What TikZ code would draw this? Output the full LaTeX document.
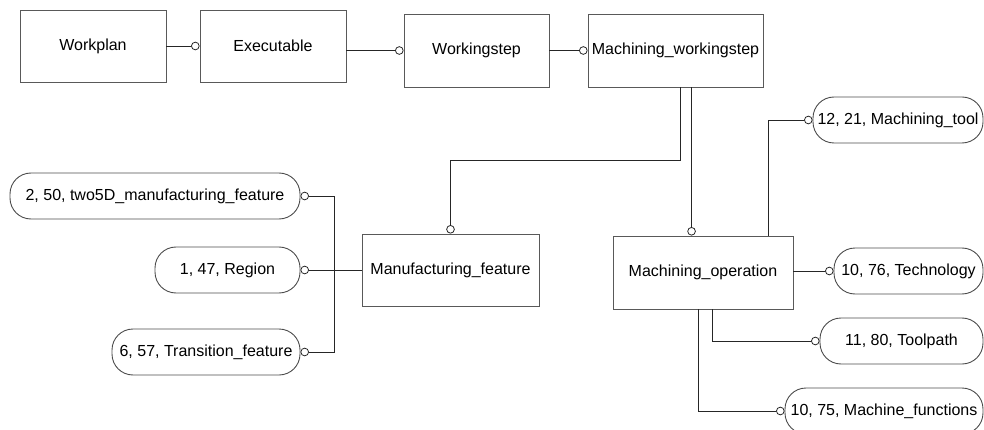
\documentclass[tikz,border=0pt]{standalone}
\usepackage{fontspec}
\setmainfont{Liberation Sans}
\usetikzlibrary{arrows.meta}
\begin{document}
\begin{tikzpicture}[x=1pt,y=-1pt,
  txt/.style={font=\fontsize{16}{19}\selectfont, text=black},
  entity/.style={txt, draw=black!65, line width=0.9pt, rectangle,
    minimum width=#1, minimum height=72pt, inner sep=0pt},
  pill/.style={txt, draw=black!70, line width=0.9pt, rounded corners=21pt,
    minimum width=#1, minimum height=46pt, inner sep=0pt},
  link/.style={draw=black!85, line width=0.9pt,
    -{Circle[open,length=8.5pt,width=8.5pt,line width=0.8pt]}}]
  \useasboundingbox (0,0) rectangle (984,430);

  % top chain
  \node[entity=146pt] (wp)  at (93,46)    {Workplan};
  \node[entity=146pt] (ex)  at (273,46)   {Executable};
  \node[entity=145pt, minimum height=73pt] (ws)  at (476.5,50.5) {Workingstep};
  \node[entity=175pt, minimum height=73pt] (mws) at (675.5,50.5) {Machining\_workingstep};

  % second level
  \node[entity=177pt] (mf) at (450.5,270) {Manufacturing\_feature};
  \node[entity=180pt, minimum height=73pt] (mo) at (703,272.5) {Machining\_operation};

  % feature attributes
  \node[pill=290pt] (p1) at (155,196)   {2, 50, two5D\_manufacturing\_feature};
  \node[pill=145pt] (p2) at (227.5,270) {1, 47, Region};
  \node[pill=188pt] (p3) at (206,352)   {6, 57, Transition\_feature};

  % operation attributes
  \node[pill=170pt] (t1) at (898,120)   {12, 21, Machining\_tool};
  \node[pill=149pt] (t2) at (908.5,271) {10, 76, Technology};
  \node[pill=163pt] (t3) at (901.5,341) {11, 80, Toolpath};
  \node[pill=198pt] (t4) at (884,411)   {10, 75, Machine\_functions};

  % connectors of the top chain
  \draw[link] (wp.east) -- (ex.west);
  \draw[link] (ex.east |- ws.west) -- (ws.west);
  \draw[link] (ws.east) -- (mws.west);

  % from the machining workingstep down
  \coordinate (mwA) at ([xshift=93pt]mws.south west);
  \coordinate (mwB) at ([xshift=104pt]mws.south west);
  \draw[link] (mwA) -- ++(0,73) -| (mf.north);
  \draw[link] (mwB) -- (mwB |- mo.north);

  % feature branches
  \coordinate (jl) at (334,270);
  \draw[link] (mf.west) -- (p2.east);
  \draw[link] (jl) |- (p1.east);
  \draw[link] (jl) |- (p3.east);

  % operation branches
  \coordinate (moT)  at ([xshift=156pt]mo.north west);
  \coordinate (moB1) at ([xshift=100pt]mo.south west);
  \coordinate (moB2) at ([xshift=86pt]mo.south west);
  \draw[link] (moT) |- (t1.west);
  \draw[link] (t2.west -| mo.east) -- (t2.west);
  \draw[link] (moB1) |- (t3.west);
  \draw[link] (moB2) |- (t4.west);
\end{tikzpicture}
\end{document}
